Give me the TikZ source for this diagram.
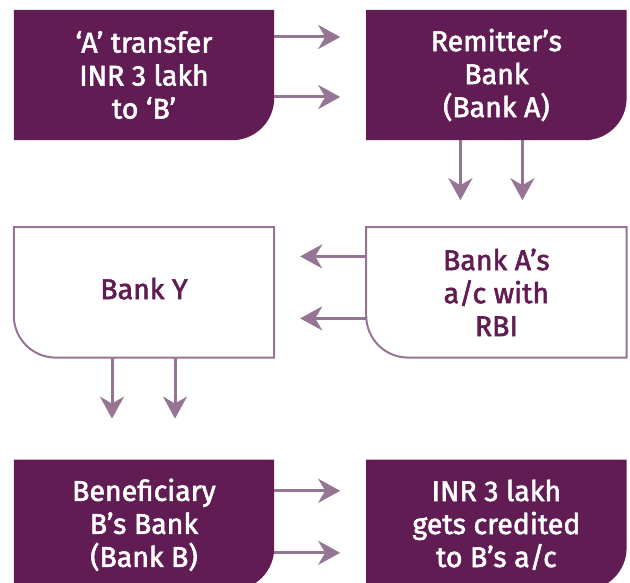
\documentclass[tikz,border=0pt]{standalone}
\usepackage{fontspec}
\setmainfont{Fira Sans}[FakeBold=2]
\usepackage{tikz}
\usetikzlibrary{arrows.meta, positioning, backgrounds}
\definecolor{plum}{HTML}{611C53}
\definecolor{mauve}{HTML}{967494}
\tikzstyle{darkbox} = [rectangle, minimum width=260pt, minimum height=130pt, align=center, text=white, font=\fontsize{28.5}{33}\selectfont]
\tikzstyle{lightbox} = [rectangle, minimum width=260pt, minimum height=130pt, align=center, text=plum, font=\fontsize{28.5}{33}\selectfont]
\tikzstyle{arrow} = [line width=3pt, draw=mauve, -{Stealth[length=22pt, width=24pt, inset=7pt]}]
% box outlines with one round corner
\newcommand{\shapeBR}[2]{\path[#2] (#1.north west) -- (#1.north east) -- ([yshift=42pt]#1.south east) arc[start angle=0, end angle=-90, radius=42pt] -- (#1.south west) -- cycle;}
\newcommand{\shapeBL}[2]{\path[#2] (#1.north west) -- (#1.north east) -- (#1.south east) -- ([xshift=42pt]#1.south west) arc[start angle=270, end angle=180, radius=42pt] -- cycle;}

\begin{document}
\begin{tikzpicture}[x=1pt, y=1pt]
\useasboundingbox (0,0) rectangle (630,582);
\node (src) [darkbox] at (144,507) {‘A’ transfer\\INR 3 lakh\\to ‘B’};
\node (remit) [darkbox, right=92pt of src] {Remitter’s\\Bank\\(Bank A)};
\node (rbi) [lightbox, below=87pt of remit] {Bank A’s\\a/c with\\RBI};
\node (banky) [lightbox, left=92pt of rbi, text depth=8pt] {Bank Y};
\node (benef) [darkbox, below=102pt of banky] {Beneficiary\\B’s Bank\\(Bank B)};
\node (credit) [darkbox, right=92pt of benef] {INR 3 lakh\\gets credited\\to B’s a/c};
\begin{scope}[on background layer]
\shapeBR{src}{fill=plum}
\shapeBR{remit}{fill=plum}
\shapeBL{rbi}{draw=mauve, line width=2pt, fill=white}
\shapeBL{banky}{draw=mauve, line width=2pt, fill=white}
\shapeBR{benef}{fill=plum}
\shapeBR{credit}{fill=plum}
\end{scope}
\draw [arrow] ([yshift=38pt]src.east) -- ([yshift=38pt, xshift=-26pt]remit.west);
\draw [arrow] ([yshift=-22pt]src.east) -- ([yshift=-22pt, xshift=-26pt]remit.west);
\draw [arrow] ([xshift=-36pt]remit.south) -- ([xshift=-36pt, yshift=27pt]rbi.north);
\draw [arrow] ([xshift=26pt]remit.south) -- ([xshift=26pt, yshift=27pt]rbi.north);
\draw [arrow] ([yshift=36pt]rbi.west) -- ([yshift=36pt, xshift=26pt]banky.east);
\draw [arrow] ([yshift=-26pt]rbi.west) -- ([yshift=-26pt, xshift=26pt]banky.east);
\draw [arrow] ([xshift=-32pt]banky.south) -- ([xshift=-32pt, yshift=41pt]benef.north);
\draw [arrow] ([xshift=31pt]banky.south) -- ([xshift=31pt, yshift=41pt]benef.north);
\draw [arrow] ([yshift=34pt]benef.east) -- ([yshift=34pt, xshift=-26pt]credit.west);
\draw [arrow] ([yshift=-28pt]benef.east) -- ([yshift=-28pt, xshift=-26pt]credit.west);
\end{tikzpicture}
\end{document}
